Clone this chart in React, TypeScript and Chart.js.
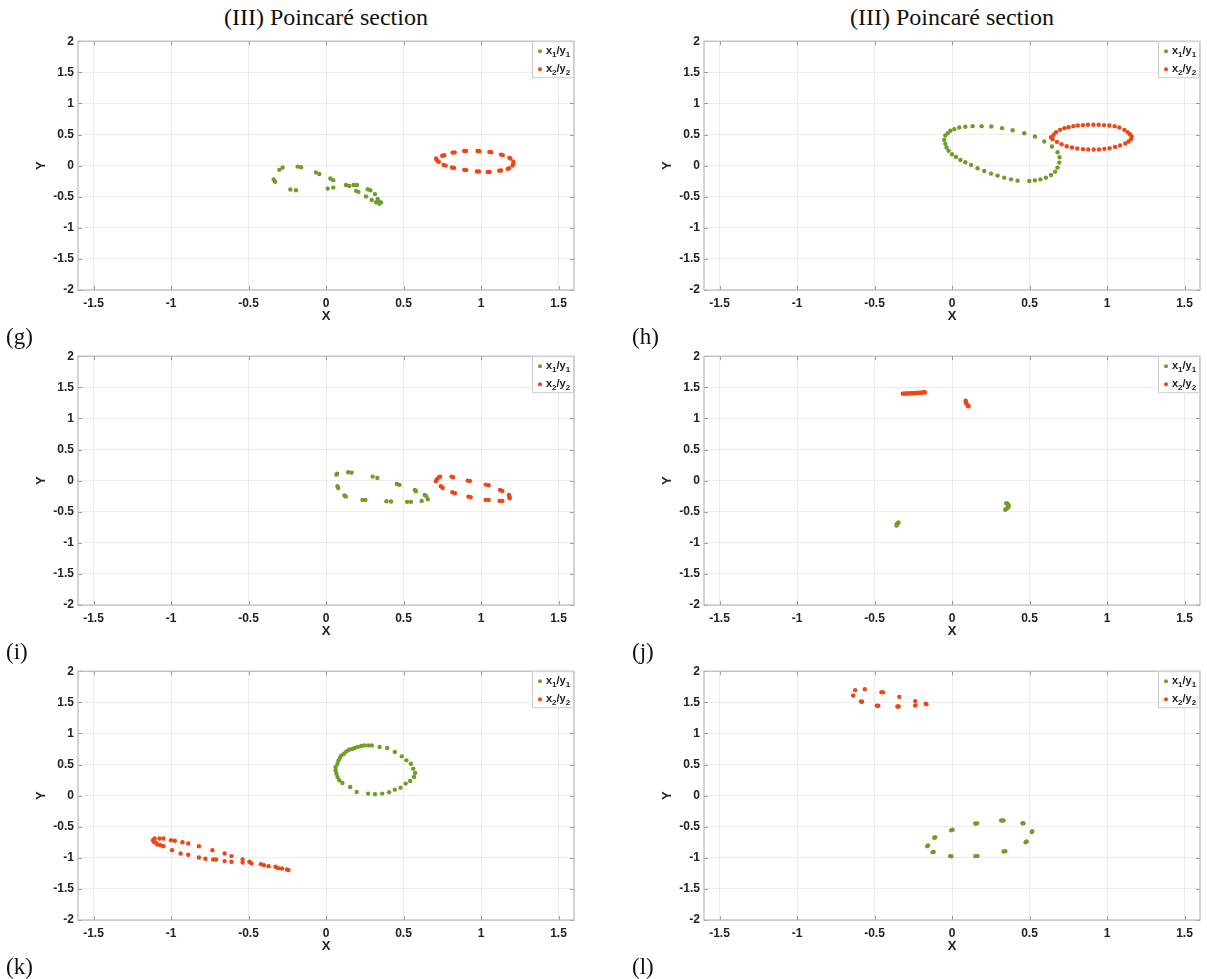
import React, { useEffect, useRef } from "react";
import { Chart, registerables } from "chart.js";

Chart.register(...registerables);

// ---------- data ----------
type P = [number, number];

const columnTitle = "(III) Poincaré section";
const seriesNames = ["x₁/y₁", "x₂/y₂"];
const seriesColors = ["#6f9e27", "#f04515"];
const xTickValues = [-1.5, -1, -0.5, 0, 0.5, 1, 1.5];
const yTickValues = [-2, -1.5, -1, -0.5, 0, 0.5, 1, 1.5, 2];
const xRange = [-1.6, 1.6];
const yRange = [-2, 2];
const xAxisName = "X";
const yAxisName = "Y";

// (g)
const g_x1y1: P[] = [
  [-0.338, -0.224], [-0.329, -0.26], [-0.301, -0.068], [-0.28, -0.031], [-0.183, -0.016],
  [-0.161, -0.026], [-0.065, -0.109], [-0.043, -0.135], [0.028, -0.208], [0.047, -0.234],
  [-0.23, -0.385], [-0.194, -0.396], [0.011, -0.37], [0.047, -0.354], [0.129, -0.313],
  [0.15, -0.328], [0.178, -0.313], [0.2, -0.313], [0.194, -0.406], [0.209, -0.422],
  [0.269, -0.38], [0.286, -0.396], [0.316, -0.458], [0.258, -0.495], [0.295, -0.552],
  [0.333, -0.536], [0.34, -0.573], [0.323, -0.589], [0.344, -0.615], [0.355, -0.594],
];
const g_x2y2: P[] = [
  [0.71, 0.115], [0.713, 0.1], [0.72, 0.073], [0.728, 0.06], [0.763, 0.167], [0.75, 0.158],
  [0.759, 0.01], [0.772, 0.0], [0.817, 0.208], [0.83, 0.213], [0.813, -0.031], [0.826, -0.038],
  [0.892, 0.234], [0.904, 0.236], [0.892, -0.068], [0.905, -0.072], [0.978, 0.234], [0.99, 0.232],
  [0.974, -0.094], [0.987, -0.096], [1.054, 0.219], [1.066, 0.214], [1.043, -0.104], [1.056, -0.102],
  [1.129, 0.177], [1.14, 0.168], [1.118, -0.083], [1.13, -0.077], [1.183, 0.125], [1.19, 0.113],
  [1.172, -0.052], [1.182, -0.043], [1.209, 0.063], [1.204, 0.0], [1.208, 0.03],
];

// (h)
const h_x1y1: P[] = [
  [-0.043, 0.484], [-0.05, 0.414], [-0.043, 0.35], [-0.035, 0.29], [-0.022, 0.237], [0.0, 0.183],
  [0.026, 0.14], [0.054, 0.091], [0.086, 0.054], [0.123, 0.011], [0.165, -0.043], [0.208, -0.086],
  [0.252, -0.129], [0.294, -0.161], [0.337, -0.194], [0.381, -0.221], [0.423, -0.242], [0.499, -0.247],
  [0.535, -0.237], [0.57, -0.221], [0.606, -0.194], [0.639, -0.15], [0.665, -0.097], [0.681, -0.032],
  [0.692, 0.048], [0.694, 0.134], [0.681, 0.215], [0.645, 0.306], [0.595, 0.387], [0.535, 0.468],
  [0.466, 0.521], [0.391, 0.569], [0.323, 0.602], [0.254, 0.629], [0.191, 0.634], [0.133, 0.634],
  [0.086, 0.624], [0.047, 0.613], [0.015, 0.586], [-0.011, 0.56], [-0.028, 0.521],
];
const h_x2y2: P[] = [
  [0.656, 0.495], [0.671, 0.538], [0.697, 0.575], [0.725, 0.602], [0.752, 0.618], [0.783, 0.634],
  [0.812, 0.645], [0.845, 0.651], [0.877, 0.656], [0.912, 0.656], [0.946, 0.656], [0.981, 0.651],
  [1.015, 0.645], [1.049, 0.634], [1.079, 0.613], [1.112, 0.575], [1.133, 0.538], [1.148, 0.505],
  [1.159, 0.468], [1.155, 0.425], [1.139, 0.387], [1.118, 0.355], [1.084, 0.323], [1.052, 0.301],
  [1.017, 0.28], [0.983, 0.269], [0.948, 0.258], [0.914, 0.258], [0.879, 0.258], [0.845, 0.263],
  [0.808, 0.274], [0.774, 0.29], [0.74, 0.312], [0.707, 0.344], [0.677, 0.382], [0.649, 0.425],
  [0.639, 0.457],
];

// (i)
const i_x1y1: P[] = [
  [0.067, 0.096], [0.072, 0.11], [0.074, -0.091], [0.079, -0.118], [0.119, -0.24], [0.128, -0.257],
  [0.143, 0.134], [0.165, 0.128], [0.235, -0.31], [0.254, -0.31], [0.301, 0.064], [0.331, 0.043],
  [0.39, -0.332], [0.42, -0.337], [0.457, -0.053], [0.474, -0.069], [0.523, -0.342], [0.548, -0.342],
  [0.573, -0.15], [0.58, -0.171], [0.617, -0.326], [0.637, -0.23], [0.647, -0.251], [0.657, -0.3],
];
const i_x2y2: P[] = [
  [0.709, -0.011], [0.716, 0.021], [0.728, 0.053], [0.736, 0.064], [0.741, -0.091], [0.753, -0.118],
  [0.81, 0.064], [0.82, 0.053], [0.815, -0.187], [0.832, -0.203], [0.914, 0.0], [0.928, -0.005],
  [0.919, -0.257], [0.933, -0.267], [1.03, -0.064], [1.049, -0.075], [1.03, -0.31], [1.049, -0.31],
  [1.123, -0.15], [1.138, -0.166], [1.12, -0.326], [1.138, -0.326], [1.18, -0.23], [1.185, -0.283],
  [1.183, -0.255],
];

// (j)
const j_x1y1: P[] = [
  [-0.345, -0.674], [-0.35, -0.685], [-0.355, -0.695], [-0.357, -0.71], [-0.358, -0.722],
  [0.35, -0.364], [0.358, -0.372], [0.362, -0.385], [0.365, -0.4], [0.365, -0.417],
  [0.36, -0.432], [0.355, -0.444], [0.348, -0.458], [0.343, -0.47],
];
const j_x2y2: P[] = [
  [-0.318, 1.398], [-0.31, 1.399], [-0.3, 1.4], [-0.29, 1.401], [-0.28, 1.402], [-0.27, 1.403],
  [-0.26, 1.405], [-0.25, 1.406], [-0.24, 1.408], [-0.23, 1.409], [-0.22, 1.41], [-0.21, 1.412],
  [-0.2, 1.414], [-0.19, 1.416], [-0.18, 1.418], [-0.175, 1.42],
  [0.088, 1.283], [0.09, 1.257], [0.095, 1.23], [0.103, 1.203], [0.107, 1.195],
];

// (k)
const k_x1y1: P[] = [
  [0.062, 0.46], [0.062, 0.406], [0.067, 0.353], [0.074, 0.299], [0.074, 0.513], [0.081, 0.567],
  [0.086, 0.246], [0.091, 0.61], [0.099, 0.647], [0.106, 0.203], [0.116, 0.674], [0.131, 0.711],
  [0.148, 0.738], [0.156, 0.139], [0.168, 0.749], [0.185, 0.765], [0.198, 0.059], [0.205, 0.781],
  [0.227, 0.797], [0.247, 0.807], [0.272, 0.032], [0.272, 0.807], [0.296, 0.807], [0.316, 0.021],
  [0.346, 0.781], [0.363, 0.032], [0.395, 0.765], [0.407, 0.053], [0.444, 0.7], [0.444, 0.096],
  [0.489, 0.631], [0.481, 0.128], [0.519, 0.567], [0.514, 0.193], [0.548, 0.513], [0.543, 0.235],
  [0.563, 0.433], [0.568, 0.299], [0.575, 0.364],
];
const k_x2y2: P[] = [
  [-1.116, -0.717], [-1.111, -0.743], [-1.106, -0.69], [-1.099, -0.759], [-1.086, -0.786],
  [-1.074, -0.69], [-1.067, -0.797], [-1.049, -0.69], [-1.049, -0.813], [-1.0, -0.717],
  [-0.993, -0.877], [-0.975, -0.727], [-0.926, -0.749], [-0.938, -0.93], [-0.889, -0.77],
  [-0.889, -0.952], [-0.82, -0.813], [-0.82, -0.995], [-0.778, -1.016], [-0.733, -0.877],
  [-0.728, -1.027], [-0.709, -1.027], [-0.654, -0.93], [-0.654, -1.053], [-0.61, -0.973],
  [-0.61, -1.064], [-0.538, -1.027], [-0.538, -1.075], [-0.494, -1.064], [-0.481, -1.091],
  [-0.42, -1.102], [-0.4, -1.118], [-0.37, -1.134], [-0.326, -1.144], [-0.309, -1.166],
  [-0.284, -1.171], [-0.252, -1.187], [-0.242, -1.198],
];

// (l)
const l_x1y1: P[] = [
  [-0.16, -0.813], [-0.155, -0.8], [-0.125, -0.909], [-0.118, -0.905], [-0.115, -0.679],
  [-0.108, -0.67], [-0.0125, -0.973], [-0.004, -0.975], [-0.005, -0.556], [0.004, -0.548],
  [0.15, -0.973], [0.165, -0.973], [0.15, -0.449], [0.162, -0.447], [0.3175, -0.401],
  [0.332, -0.401], [0.3325, -0.898], [0.344, -0.893], [0.455, -0.444], [0.462, -0.447],
  [0.475, -0.749], [0.482, -0.738], [0.5175, -0.572], [0.515, -0.585],
];
const l_x2y2: P[] = [
  [-0.6375, 1.61], [-0.625, 1.695], [-0.5875, 1.513], [-0.58, 1.508], [-0.5625, 1.711],
  [-0.485, 1.444], [-0.475, 1.444], [-0.455, 1.663], [-0.445, 1.66], [-0.3525, 1.433],
  [-0.344, 1.433], [-0.34, 1.588], [-0.2375, 1.449], [-0.2375, 1.519], [-0.17, 1.476],
  [-0.165, 1.47],
];

type PanelDef = { tag: string; col: number; row: number; s1: P[]; s2: P[] };
const panels: PanelDef[] = [
  { tag: "(g)", col: 0, row: 0, s1: g_x1y1, s2: g_x2y2 },
  { tag: "(h)", col: 1, row: 0, s1: h_x1y1, s2: h_x2y2 },
  { tag: "(i)", col: 0, row: 1, s1: i_x1y1, s2: i_x2y2 },
  { tag: "(j)", col: 1, row: 1, s1: j_x1y1, s2: j_x2y2 },
  { tag: "(k)", col: 0, row: 2, s1: k_x1y1, s2: k_x2y2 },
  { tag: "(l)", col: 1, row: 2, s1: l_x1y1, s2: l_x2y2 },
];

// ---------- layout ----------
const SANS = "'Liberation Sans', Arial, Helvetica, sans-serif";
const SERIF = "'Liberation Serif', 'Times New Roman', serif";
const COL_CANVAS_LEFT = [0, 626];
const COL_CANVAS_WIDTH = [590, 581];
const COL_PAD_RIGHT = [16, 7];
const ROW_PLOT_TOP = [40, 355, 670];
const PLOT_H = 250;
const PAD_TOP = 10;
const XAXIS_H = 40;
const YAXIS_W = 78;
const CANVAS_H = PAD_TOP + PLOT_H + XAXIS_H;

const framePlugin = {
  id: "frameBox",
  afterDatasetsDraw(chart: any) {
    const { ctx, chartArea: a, scales } = chart;
    ctx.save();
    ctx.strokeStyle = "rgba(0,0,0,0.38)";
    ctx.lineWidth = 1;
    const tl = 4;
    ctx.beginPath();
    for (const v of xTickValues) {
      const x = Math.round(scales.x.getPixelForValue(v)) + 0.5;
      ctx.moveTo(x, a.bottom);
      ctx.lineTo(x, a.bottom - tl);
      ctx.moveTo(x, a.top);
      ctx.lineTo(x, a.top + tl);
    }
    for (const v of yTickValues) {
      const y = Math.round(scales.y.getPixelForValue(v)) + 0.5;
      ctx.moveTo(a.left, y);
      ctx.lineTo(a.left + tl, y);
      ctx.moveTo(a.right, y);
      ctx.lineTo(a.right - tl, y);
    }
    ctx.stroke();
    ctx.strokeStyle = "#b9b9b9";
    ctx.lineWidth = 1.2;
    ctx.strokeRect(a.left, a.top, a.right - a.left, a.bottom - a.top);
    ctx.restore();
  },
};

const SUBS = "₀₁₂₃₄₅₆₇₈₉";
const legendPlugin = {
  id: "boxLegend",
  afterDraw(chart: any) {
    const { ctx, chartArea: a } = chart;
    const w = 42;
    const h = 37;
    const left = a.right - w;
    const top = a.top;
    ctx.save();
    ctx.fillStyle = "#ffffff";
    ctx.fillRect(left, top, w, h);
    ctx.strokeStyle = "#cdcdcd";
    ctx.lineWidth = 1;
    ctx.strokeRect(left + 0.5, top + 0.5, w - 1, h - 1);
    chart.data.datasets.forEach((ds: any, i: number) => {
      const cy = top + 10 + i * 18;
      ctx.fillStyle = ds.backgroundColor;
      ctx.beginPath();
      ctx.arc(left + 8, cy, 2, 0, Math.PI * 2);
      ctx.fill();
      let x = left + 14;
      ctx.fillStyle = "#1e1e1e";
      ctx.textBaseline = "alphabetic";
      ctx.textAlign = "left";
      for (const ch of ds.label as string) {
        const sub = SUBS.indexOf(ch);
        if (sub >= 0) {
          ctx.font = `bold 8px ${SANS}`;
          ctx.fillText(String(sub), x, cy + 6);
          x += ctx.measureText(String(sub)).width;
        } else {
          ctx.font = `bold 11px ${SANS}`;
          ctx.fillText(ch, x, cy + 3);
          x += ctx.measureText(ch).width;
        }
      }
    });
    ctx.restore();
  },
};

function Panel({ p }: { p: PanelDef }) {
  const ref = useRef<HTMLCanvasElement>(null);
  useEffect(() => {
    const tickFont = { family: SANS, size: 12, weight: "bold" as const };
    const titleFont = { family: SANS, size: 13, weight: "bold" as const };
    const gridColor = "rgba(0,0,0,0.07)";
    const chart = new Chart(ref.current as HTMLCanvasElement, {
      type: "scatter",
      data: {
        datasets: [
          {
            label: seriesNames[0],
            data: p.s1.map(([x, y]) => ({ x, y })),
            backgroundColor: seriesColors[0],
            borderWidth: 0,
            pointRadius: 2.2,
            pointBorderWidth: 0,
            order: 1,
          },
          {
            label: seriesNames[1],
            data: p.s2.map(([x, y]) => ({ x, y })),
            backgroundColor: seriesColors[1],
            borderWidth: 0,
            pointRadius: 2.2,
            pointBorderWidth: 0,
            order: 0,
          },
        ],
      },
      options: {
        animation: false,
        responsive: false,
        events: [],
        layout: { padding: { top: PAD_TOP, right: COL_PAD_RIGHT[p.col], left: 0, bottom: 0 } },
        plugins: { legend: { display: false }, tooltip: { enabled: false } },
        scales: {
          x: {
            type: "linear",
            min: xRange[0],
            max: xRange[1],
            afterBuildTicks: (s: any) => {
              s.ticks = xTickValues.map((v) => ({ value: v }));
            },
            afterFit: (s: any) => {
              s.height = XAXIS_H;
            },
            grid: { color: gridColor, drawTicks: false },
            border: { display: false },
            ticks: {
              font: tickFont,
              color: "#222",
              padding: 6,
              maxRotation: 0,
              autoSkip: false,
              callback: (v: any) => String(v),
            },
            title: {
              display: true,
              text: xAxisName,
              font: titleFont,
              color: "#222",
              padding: { top: 0, bottom: 6 },
            },
          },
          y: {
            type: "linear",
            min: yRange[0],
            max: yRange[1],
            afterBuildTicks: (s: any) => {
              s.ticks = yTickValues.map((v) => ({ value: v }));
            },
            afterFit: (s: any) => {
              s.width = YAXIS_W;
            },
            grid: { color: gridColor, drawTicks: false },
            border: { display: false },
            ticks: {
              font: tickFont,
              color: "#222",
              padding: 4,
              autoSkip: false,
              callback: (v: any) => String(v),
            },
            title: {
              display: true,
              text: yAxisName,
              font: titleFont,
              color: "#222",
              padding: { top: 34, bottom: 0 },
            },
          },
        },
      },
      plugins: [framePlugin, legendPlugin],
    } as any);
    return () => chart.destroy();
  }, [p]);

  const left = COL_CANVAS_LEFT[p.col];
  const top = ROW_PLOT_TOP[p.row] - PAD_TOP;
  const width = COL_CANVAS_WIDTH[p.col];
  return (
    <canvas
      ref={ref}
      width={width}
      height={CANVAS_H}
      style={{ position: "absolute", left, top, width, height: CANVAS_H }}
    />
  );
}

export default function App() {
  const titleCenters = [326, 952];
  const tagLeft = [6, 632];
  return (
    <div
      style={{
        position: "absolute",
        left: 0,
        top: 0,
        width: 1207,
        height: 979,
        background: "#fff",
        overflow: "hidden",
      }}
    >
      {titleCenters.map((cx, i) => (
        <div
          key={"t" + i}
          style={{
            position: "absolute",
            left: cx - 200,
            width: 400,
            top: 2,
            textAlign: "center",
            fontFamily: SERIF,
            fontSize: 24,
            lineHeight: "30px",
            color: "#111",
          }}
        >
          {columnTitle}
        </div>
      ))}
      {panels.map((p) => (
        <Panel key={p.tag} p={p} />
      ))}
      {panels.map((p) => (
        <div
          key={"l" + p.tag}
          style={{
            position: "absolute",
            left: tagLeft[p.col],
            top: ROW_PLOT_TOP[p.row] + 297 - 15,
            fontFamily: SERIF,
            fontSize: 23,
            lineHeight: "30px",
            color: "#111",
          }}
        >
          {p.tag}
        </div>
      ))}
    </div>
  );
}
